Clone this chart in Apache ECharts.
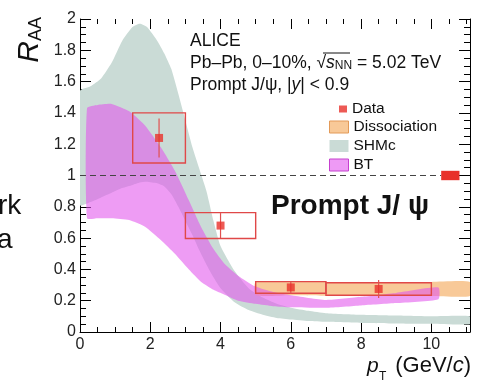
<!DOCTYPE html>
<html>
<head>
<meta charset="utf-8">
<script src="https://cdn.jsdelivr.net/npm/echarts@6/dist/echarts.min.js"></script>
<style>
  html, body { margin: 0; padding: 0; background: #fff; }
  #chart { width: 480px; height: 382px; }
</style>
</head>
<body>
<div id="chart"></div>
<script>
// ---- Model bands: pT points with lower / upper R_AA edges ----
const shmcX    = [0, 0.3, 0.6, 0.9, 1.2, 1.5, 1.7, 1.9, 2.2, 2.4, 2.6, 2.8, 3.0, 3.2, 3.4, 3.6, 3.8, 4.0, 4.4, 4.8, 5.2, 5.6, 6.0, 6.5, 7.0, 8.0, 9.0, 10.0, 11.1];
const shmcHigh = [1.54, 1.57, 1.62, 1.72, 1.86, 1.95, 1.97, 1.95, 1.86, 1.78, 1.68, 1.52, 1.35, 1.18, 1.04, 0.90, 0.71, 0.55, 0.39, 0.28, 0.22, 0.18, 0.155, 0.135, 0.12, 0.11, 0.105, 0.10, 0.10];
const shmcLow  = [0.81, 0.83, 0.86, 0.89, 0.92, 0.94, 0.955, 0.96, 0.95, 0.93, 0.88, 0.80, 0.71, 0.62, 0.52, 0.43, 0.35, 0.28, 0.19, 0.14, 0.11, 0.09, 0.08, 0.07, 0.065, 0.058, 0.055, 0.052, 0.05];

const btX    = [0.2, 0.5, 0.9, 1.4, 1.85, 2.3, 2.7, 3.1, 3.45, 3.8, 4.1, 4.5, 5.0, 5.5, 6.0, 7.0, 8.0, 9.0, 10.2];
const btHigh = [1.43, 1.45, 1.457, 1.41, 1.32, 1.18, 1.03, 0.84, 0.67, 0.53, 0.44, 0.36, 0.29, 0.255, 0.235, 0.205, 0.225, 0.25, 0.285];
const btLow  = [0.727, 0.727, 0.727, 0.716, 0.673, 0.588, 0.50, 0.40, 0.32, 0.27, 0.24, 0.20, 0.18, 0.165, 0.158, 0.155, 0.17, 0.185, 0.21];

const dissX    = [5, 6, 7, 8, 9, 10, 11.1];
const dissHigh = [0.32, 0.32, 0.32, 0.32, 0.32, 0.32, 0.32];
const dissLow  = [0.235, 0.235, 0.232, 0.23, 0.23, 0.23, 0.23];

// ---- Measured prompt J/psi R_AA ----
const dataX   = [2.25, 4, 6, 8.5];
const dataY   = [1.24, 0.68, 0.285, 0.275];
const statErr = [0.125, 0.08, 0.04, 0.057];
const sysErr  = [0.16, 0.083, 0.037, 0.04];
const binLo   = [1.5, 3, 5, 7];
const binHi   = [3, 5, 7, 10];

// global normalisation uncertainty drawn at R_AA = 1
const normUnc = 0.03;
const normXRange = [10.28, 10.8];
const refX = [0, 10.28];
const refY = [1, 1];

const FONT = '"Liberation Sans", Arial, Helvetica, sans-serif';
const RED = '#e8312a';

function band(name, xs, lo, hi, fill, z) {
  return {
    type: 'custom',
    name: name,
    z: z,
    clip: true,
    silent: true,
    data: xs.map((x, i) => [x, lo[i], hi[i]]),
    renderItem(params, api) {
      if (params.dataIndex !== 0) return null;
      const up = xs.map((x, i) => api.coord([x, hi[i]]));
      const dn = xs.map((x, i) => api.coord([x, lo[i]])).reverse();
      return {
        type: 'polygon',
        shape: { points: up.concat(dn), smooth: 0.18 },
        style: { fill: fill }
      };
    }
  };
}

function axisX(position, interval, len, labels) {
  return {
    type: 'value', min: 0, max: 11.1, interval: interval, position: position,
    axisLine: { show: labels, onZero: false, lineStyle: { color: '#000', width: 1 } },
    axisTick: { show: true, inside: true, length: len, lineStyle: { color: '#000', width: 1 } },
    axisLabel: {
      show: labels, margin: 5, fontSize: 16, fontFamily: FONT, color: '#222',
      showMaxLabel: false,
      formatter: v => (Math.abs(v % 2) < 1e-9 ? String(v) : '')
    },
    splitLine: { show: false }
  };
}

function axisY(position, labels) {
  return {
    type: 'value', min: 0, max: 2, interval: 0.2, position: position,
    axisLine: { show: true, onZero: false, lineStyle: { color: '#000', width: 1 } },
    axisTick: { show: true, inside: true, length: 11, lineStyle: { color: '#000', width: 1 } },
    minorTick: { show: true, splitNumber: 4, length: 6, lineStyle: { color: '#000', width: 1 } },
    axisLabel: { show: labels, margin: 4, fontSize: 16, fontFamily: FONT, color: '#222' },
    splitLine: { show: false }
  };
}

const chart = echarts.init(document.getElementById('chart'), null, { renderer: 'canvas' });

chart.setOption({
  animation: false,
  backgroundColor: '#fff',
  grid: { left: 80, right: 10, top: 19, bottom: 50, containLabel: false },
  xAxis: [
    axisX('bottom', 2, 10, true),
    axisX('bottom', 0.5, 5, false),
    axisX('top', 2, 10, false),
    axisX('top', 0.5, 5, false)
  ],
  yAxis: [axisY('left', true), axisY('right', false)],
  legend: [
    {
      data: [{ name: 'Data', icon: 'rect', itemStyle: { color: RED } }],
      orient: 'vertical', left: 339, top: 101, padding: 0,
      itemWidth: 8, itemHeight: 7, selectedMode: false,
      textStyle: { fontSize: 15.5, fontFamily: FONT, color: '#111' }
    },
    {
      data: [
        { name: 'Dissociation', icon: 'rect', itemStyle: { color: '#f8c998', borderColor: '#e39a58', borderWidth: 1, opacity: 1 } },
        { name: 'SHMc', icon: 'rect', itemStyle: { color: '#cadbd6', borderWidth: 0, opacity: 1 } },
        { name: 'BT', icon: 'rect', itemStyle: { color: '#ee9af5', borderColor: '#c640cf', borderWidth: 1, opacity: 1 } }
      ],
      orient: 'vertical', left: 329, top: 119, padding: 0,
      itemWidth: 19, itemHeight: 12, itemGap: 3, selectedMode: false,
      textStyle: { fontSize: 15.5, fontFamily: FONT, color: '#111' }
    }
  ],
  series: [
    band('SHMc', shmcX, shmcLow, shmcHigh, '#cadbd6', 1),
    band('Dissociation', dissX, dissLow, dissHigh, '#f8c998', 2),
    band('BT', btX, btLow, btHigh, 'rgba(226, 84, 236, 0.58)', 3),
    {
      type: 'line', z: 4, silent: true, symbol: 'none',
      data: refX.map((x, i) => [x, refY[i]]),
      lineStyle: { color: '#444', width: 1.2, type: [6, 4] }
    },
    {
      // systematic uncertainty boxes
      type: 'custom', z: 5, silent: true,
      data: dataX.map((x, i) => [binLo[i], binHi[i], dataY[i], sysErr[i]]),
      renderItem(params, api) {
        const a = api.coord([api.value(0), api.value(2) + api.value(3)]);
        const b = api.coord([api.value(1), api.value(2) - api.value(3)]);
        return {
          type: 'rect',
          shape: { x: a[0], y: a[1], width: b[0] - a[0], height: b[1] - a[1] },
          style: { fill: 'none', stroke: '#e04848', lineWidth: 1.4 }
        };
      }
    },
    {
      // statistical error bars
      type: 'custom', z: 6, silent: true,
      data: dataX.map((x, i) => [x, dataY[i], statErr[i]]),
      renderItem(params, api) {
        const t = api.coord([api.value(0), api.value(1) + api.value(2)]);
        const b = api.coord([api.value(0), api.value(1) - api.value(2)]);
        return {
          type: 'line',
          shape: { x1: t[0], y1: t[1], x2: b[0], y2: b[1] },
          style: { stroke: '#e05050', lineWidth: 1.2 }
        };
      }
    },
    {
      // normalisation uncertainty at unity
      type: 'custom', z: 6, silent: true,
      data: [[normXRange[0], normXRange[1], 1, normUnc]],
      renderItem(params, api) {
        const a = api.coord([api.value(0), api.value(2) + api.value(3)]);
        const b = api.coord([api.value(1), api.value(2) - api.value(3)]);
        return {
          type: 'rect',
          shape: { x: a[0], y: a[1], width: b[0] - a[0], height: b[1] - a[1] },
          style: { fill: RED }
        };
      }
    },
    {
      type: 'scatter', name: 'Data', z: 7, silent: true,
      symbol: 'rect', symbolSize: 8,
      itemStyle: { color: RED },
      data: dataX.map((x, i) => [x, dataY[i]])
    }
  ],
  graphic: [
    { type: 'text', x: 190, y: 41, style: { text: 'ALICE', font: '17.5px ' + FONT, fill: '#111', verticalAlign: 'middle' } },
    { type: 'text', x: 190, y: 63, style: {
        text: 'Pb–Pb, 0–10%, √{s|s}{sub|NN} = 5.02 TeV',
        font: '17.5px ' + FONT, fill: '#111', verticalAlign: 'middle',
        rich: {
          s: { fontSize: 17.5, fontStyle: 'italic', fontFamily: FONT, fill: '#111' },
          sub: { fontSize: 12, fontFamily: FONT, fill: '#111', verticalAlign: 'bottom', padding: [6, 0, 0, 0] }
        }
    } },
    // radical bar over s_NN
    { type: 'line', shape: { x1: 323, y1: 53, x2: 350, y2: 53 }, style: { stroke: '#111', lineWidth: 1 } },
    { type: 'text', x: 190, y: 85, style: {
        text: 'Prompt J/ψ, |{i|y}| < 0.9',
        font: '17.5px ' + FONT, fill: '#111', verticalAlign: 'middle',
        rich: { i: { fontSize: 17.5, fontStyle: 'italic', fontFamily: FONT, fill: '#111' } }
    } },
    { type: 'text', x: 271, y: 206, style: { text: 'Prompt J/ ψ', font: 'bold 28px ' + FONT, fill: '#111', verticalAlign: 'middle' } },
    // axis titles
    { type: 'text', x: 367, y: 366, style: { text: 'p', font: 'italic 21px ' + FONT, fill: '#111', verticalAlign: 'middle' } },
    { type: 'text', x: 379, y: 377, style: { text: 'T', font: '12px ' + FONT, fill: '#111', verticalAlign: 'middle' } },
    { type: 'text', x: 471, y: 366, style: {
        text: '(GeV/{i|c})', font: '22px ' + FONT, fill: '#111', align: 'right', verticalAlign: 'middle',
        rich: { i: { fontSize: 22, fontStyle: 'italic', fontFamily: FONT, fill: '#111' } }
    } },
    { type: 'text', x: 30, y: 52, rotation: Math.PI / 2, style: { text: 'R', font: 'italic 30px ' + FONT, fill: '#111', align: 'center', verticalAlign: 'middle' } },
    { type: 'text', x: 36, y: 29, rotation: Math.PI / 2, style: { text: 'AA', font: '18px ' + FONT, fill: '#111', align: 'center', verticalAlign: 'middle' } },
    // neighbouring slide text
    { type: 'text', x: -2, y: 192, style: { text: 'rk', font: '28px ' + FONT, fill: '#111', verticalAlign: 'alphabetic' } },
    { type: 'text', x: -3, y: 226, style: { text: 'a', font: '28px ' + FONT, fill: '#111', verticalAlign: 'alphabetic' } }
  ]
});
</script>
</body>
</html>
